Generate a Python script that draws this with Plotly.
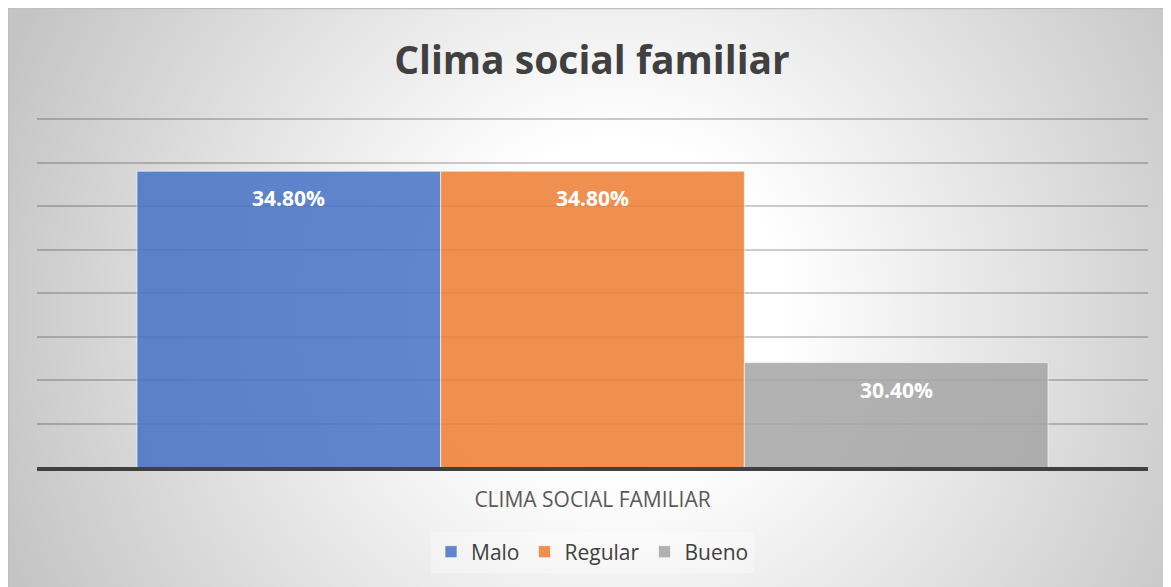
import base64
import plotly.graph_objects as go

# data
category = "CLIMA SOCIAL FAMILIAR"
levels = ["Malo", "Regular", "Bueno"]
shares = [0.348, 0.348, 0.304]
colors = ["rgba(68,114,196,0.85)", "rgba(237,125,49,0.85)", "rgba(165,165,165,0.85)"]

# page body has an 8px margin, so the figure is sized to fit the window
W, H = 1163, 579
L, R, T, B = 29, 23, 107, 120
BARGAP = 0.18
Y_MIN, Y_MAX = 0.28, 0.36092  # a few px of headroom so the 0.36 gridline is drawn

# radial gradient background like the excel chart area
svg = (
    '<svg xmlns="http://www.w3.org/2000/svg" width="1163" height="579" '
    'viewBox="0 0 1163 579" preserveAspectRatio="none">'
    '<defs><radialGradient id="g" gradientUnits="userSpaceOnUse" cx="610" cy="300" r="660">'
    '<stop offset="0" stop-color="#ffffff"/><stop offset="0.25" stop-color="#ffffff"/>'
    '<stop offset="1" stop-color="#c4c4c4"/></radialGradient></defs>'
    '<rect x="0" y="0" width="1163" height="579" fill="url(#g)"/>'
    '<path d="M0.5,579 V0.5 H1163" fill="none" stroke="#bfbfbf" stroke-width="1.5"/>'
    "</svg>"
)
bg = "data:image/svg+xml;base64," + base64.b64encode(svg.encode()).decode()

fig = go.Figure()
for name, val, col in zip(levels, shares, colors):
    fig.add_trace(
        go.Bar(
            x=[category],
            y=[val],
            name=name,
            marker=dict(color=col, line=dict(color="rgba(255,255,255,0.6)", width=1)),
        )
    )

# data labels near the top of each bar
bw = (1 - BARGAP) / len(levels)
for i, val in enumerate(shares):
    fig.add_annotation(
        x=(i - (len(levels) - 1) / 2) * bw,
        y=val,
        yshift=-27,
        text=f"{val * 100:.2f}%",
        showarrow=False,
        font=dict(family="Open Sans", size=21, color="white", weight="bold"),
    )

pw, ph = W - L - R, H - T - B
fig.add_layout_image(
    source=bg,
    xref="paper",
    yref="paper",
    x=-L / pw,
    y=(H - B) / ph,
    sizex=W / pw,
    sizey=H / ph,
    xanchor="left",
    yanchor="top",
    sizing="stretch",
    layer="below",
)

fig.update_layout(
    width=W,
    height=H,
    margin=dict(l=L, r=R, t=T, b=B),
    paper_bgcolor="white",
    plot_bgcolor="rgba(0,0,0,0)",
    barmode="group",
    bargap=BARGAP,
    bargroupgap=0,
    title=dict(
        text="<b>Clima social familiar</b>",
        x=(592 - 8) / W,
        xanchor="center",
        y=1 - 52 / H,
        yanchor="middle",
        font=dict(family="Open Sans", size=39, color="#404040"),
    ),
    legend=dict(
        orientation="h",
        x=0.5,
        xanchor="center",
        y=(H - B - 544) / ph,
        yanchor="middle",
        bgcolor="rgba(255,255,255,0.3)",
        font=dict(family="Open Sans", size=21, color="#404040"),
        itemwidth=30,
    ),
    showlegend=True,
)
fig.update_xaxes(
    showline=True,
    linecolor="#404040",
    linewidth=4,
    showgrid=False,
    ticks="outside",
    ticklen=11,
    tickcolor="rgba(0,0,0,0)",
    tickfont=dict(family="Open Sans", size=21, color="#595959"),
)
fig.update_yaxes(
    range=[Y_MIN, Y_MAX],
    tick0=0.28,
    dtick=0.01,
    showticklabels=False,
    showgrid=True,
    gridcolor="rgba(0,0,0,0.2)",
    gridwidth=1.5,
    zeroline=False,
)

fig.write_html("out.html")
